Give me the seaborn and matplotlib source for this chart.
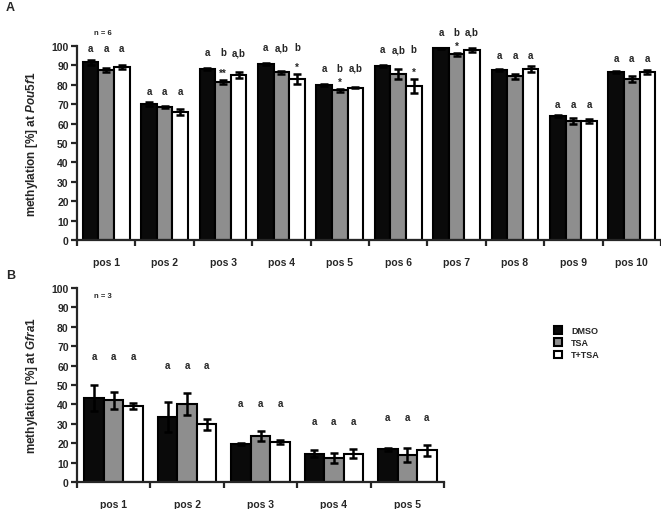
import numpy as np
import pandas as pd
import matplotlib
matplotlib.use("Agg")
import matplotlib.pyplot as plt
import matplotlib.patches as mpatches
import seaborn as sns

# ── Data ──────────────────────────────────────────────────────────────────────

TREATMENTS = ["DMSO", "TSA", "T+TSA"]
COLORS = ["#0a0a0a", "#8e8e8e", "#ffffff"]

# Panel A: Pou5f1, n = 6
POU_POS = [f"pos {i}" for i in range(1, 11)]
POU_DMSO = [91.5, 70.0, 88.0, 90.5, 80.0, 89.6, 98.8, 87.6, 63.8, 86.5]
POU_TSA = [87.5, 68.5, 81.5, 86.5, 77.2, 85.5, 95.7, 84.3, 61.2, 82.8]
POU_TTSA = [89.0, 65.8, 85.0, 83.0, 78.6, 79.3, 97.9, 88.0, 61.2, 86.8]
POU_DMSO_ERR = [1.5, 1.0, 0.5, 0.5, 0.4, 0.4, 0.3, 0.6, 0.5, 0.4]
POU_TSA_ERR = [1.0, 0.5, 1.0, 0.8, 0.8, 2.4, 0.8, 1.5, 1.5, 1.5]
POU_TTSA_ERR = [1.0, 1.5, 1.5, 2.5, 0.5, 3.7, 1.0, 1.5, 1.0, 1.0]
POU_LETTERS = [
    ["a", "a", "a"], ["a", "a", "a"], ["a", "b", "a,b"], ["a", "a,b", "b"],
    ["a", "b", "a,b"], ["a", "a,b", "b"], ["a", "b", "a,b"], ["a", "a", "a"],
    ["a", "a", "a"], ["a", "a", "a"],
]
POU_STARS = [
    ["", "", ""], ["", "", ""], ["", "**", ""], ["", "", "*"], ["", "*", ""],
    ["", "", "*"], ["", "*", ""], ["", "", ""], ["", "", ""], ["", "", ""],
]

# Panel B: Gfra1, n = 3
GFRA_POS = [f"pos {i}" for i in range(1, 6)]
GFRA_DMSO = [43.3, 33.7, 19.4, 14.6, 16.8]
GFRA_TSA = [42.1, 40.2, 23.7, 12.5, 14.0]
GFRA_TTSA = [39.2, 29.7, 20.6, 14.6, 16.3]
GFRA_DMSO_ERR = [6.9, 7.7, 0.5, 1.8, 0.7]
GFRA_TSA_ERR = [4.3, 5.8, 2.7, 2.6, 3.5]
GFRA_TTSA_ERR = [1.7, 2.9, 0.8, 2.3, 2.8]
GFRA_LETTERS = [["a", "a", "a"]] * 5

# ── Style ─────────────────────────────────────────────────────────────────────

sns.set_style("ticks")
plt.rcParams["font.family"] = ["Liberation Sans", "DejaVu Sans"]
plt.rcParams["font.weight"] = "bold"
plt.rcParams["axes.linewidth"] = 1.6
plt.rcParams["mathtext.fontset"] = "custom"
plt.rcParams["mathtext.it"] = "Liberation Sans:italic:bold"
plt.rcParams["mathtext.rm"] = "Liberation Sans:bold"


def draw_panel(ax, positions, means, errs, letters, stars, letter_off,
               star_letter_off, ylabel_gene, label_x):
    rows = []
    for t, vals in zip(TREATMENTS, means):
        for p, v in zip(positions, vals):
            rows.append({"pos": p, "treatment": t, "value": v})
    df = pd.DataFrame(rows)

    sns.barplot(data=df, x="pos", y="value", hue="treatment", palette=COLORS,
                edgecolor="black", linewidth=1.5, errorbar=None, width=0.8,
                saturation=1, legend=False, ax=ax)

    centers = []
    for cont, m, e in zip(ax.containers, means, errs):
        xs = [b.get_x() + b.get_width() / 2 for b in cont]
        centers.append(xs)
        ax.errorbar(xs, m, yerr=e, fmt="none", ecolor="black", elinewidth=1.8,
                    capsize=3.2, capthick=1.8, zorder=5)

    for j in range(len(positions)):
        tops = [means[i][j] + errs[i][j] for i in range(3)]
        has_star = stars is not None and any(stars[j])
        y = max(tops) + (star_letter_off if has_star else letter_off)
        for i in range(3):
            ax.text(centers[i][j], y, letters[j][i], ha="center", va="center",
                    fontsize=7, fontweight="bold", clip_on=False)
            if has_star and stars[j][i]:
                ax.text(centers[i][j], tops[i] + 1.2, stars[j][i], ha="center",
                        va="bottom", fontsize=7, fontweight="bold", clip_on=False)

    n = len(positions)
    ax.set_xlim(-0.5, n - 0.5)
    ax.set_ylim(0, 100)
    ax.set_yticks(np.arange(0, 101, 10))
    ax.set_xticks(np.arange(-0.5, n, 1.0), minor=True)
    ax.tick_params(axis="x", which="major", length=0, pad=12, labelsize=7.5)
    ax.tick_params(axis="x", which="minor", length=4, width=1.6, direction="out")
    ax.tick_params(axis="y", length=4, width=1.6, labelsize=7.5, pad=2)
    for lab in ax.get_xticklabels() + ax.get_yticklabels():
        lab.set_fontweight("bold")
    ax.set_xlabel("")
    ax.set_ylabel(r"methylation [%] at $\it{" + ylabel_gene + "}$",
                  fontsize=8.5, fontweight="bold")
    ax.yaxis.set_label_coords(label_x, 0.5)
    sns.despine(ax=ax)


fig = plt.figure(figsize=(6.61, 5.10), dpi=100)
axA = fig.add_axes([77 / 661, 1 - 241 / 510, 584 / 661, 194 / 510])
axB = fig.add_axes([77 / 661, 1 - 483 / 510, 367 / 661, 194 / 510])

draw_panel(axA, POU_POS, [POU_DMSO, POU_TSA, POU_TTSA],
           [POU_DMSO_ERR, POU_TSA_ERR, POU_TTSA_ERR], POU_LETTERS, POU_STARS,
           5.8, 8.3, "Pou5f1", -37 / 584)
draw_panel(axB, GFRA_POS, [GFRA_DMSO, GFRA_TSA, GFRA_TTSA],
           [GFRA_DMSO_ERR, GFRA_TSA_ERR, GFRA_TTSA_ERR], GFRA_LETTERS, None,
           14.5, 14.5, "Gfra1", -37 / 367)

axA.text(0.045, 1.072, "n = 6", transform=axA.transAxes, ha="center", va="center",
         fontsize=5.5, fontweight="bold")
axB.text(0.071, 0.959, "n = 3", transform=axB.transAxes, ha="center", va="center",
         fontsize=5.5, fontweight="bold")

fig.text(6 / 661, 1 - 8 / 510, "A", fontsize=9, fontweight="bold", va="center")
fig.text(6 / 661, 1 - 276 / 510, "B", fontsize=9, fontweight="bold", va="center")

handles = [mpatches.Patch(facecolor=c, edgecolor="black", linewidth=1.5, label=t)
           for c, t in zip(COLORS, TREATMENTS)]
fig.legend(handles=handles, loc="upper left", bbox_to_anchor=(546 / 661, 1 - 319 / 510),
           frameon=False, handlelength=0.9, handleheight=0.9, handletextpad=1.0,
           labelspacing=0.35, prop={"size": 6.5, "weight": "bold"})

fig.savefig("out.png", dpi=100, facecolor="white")
